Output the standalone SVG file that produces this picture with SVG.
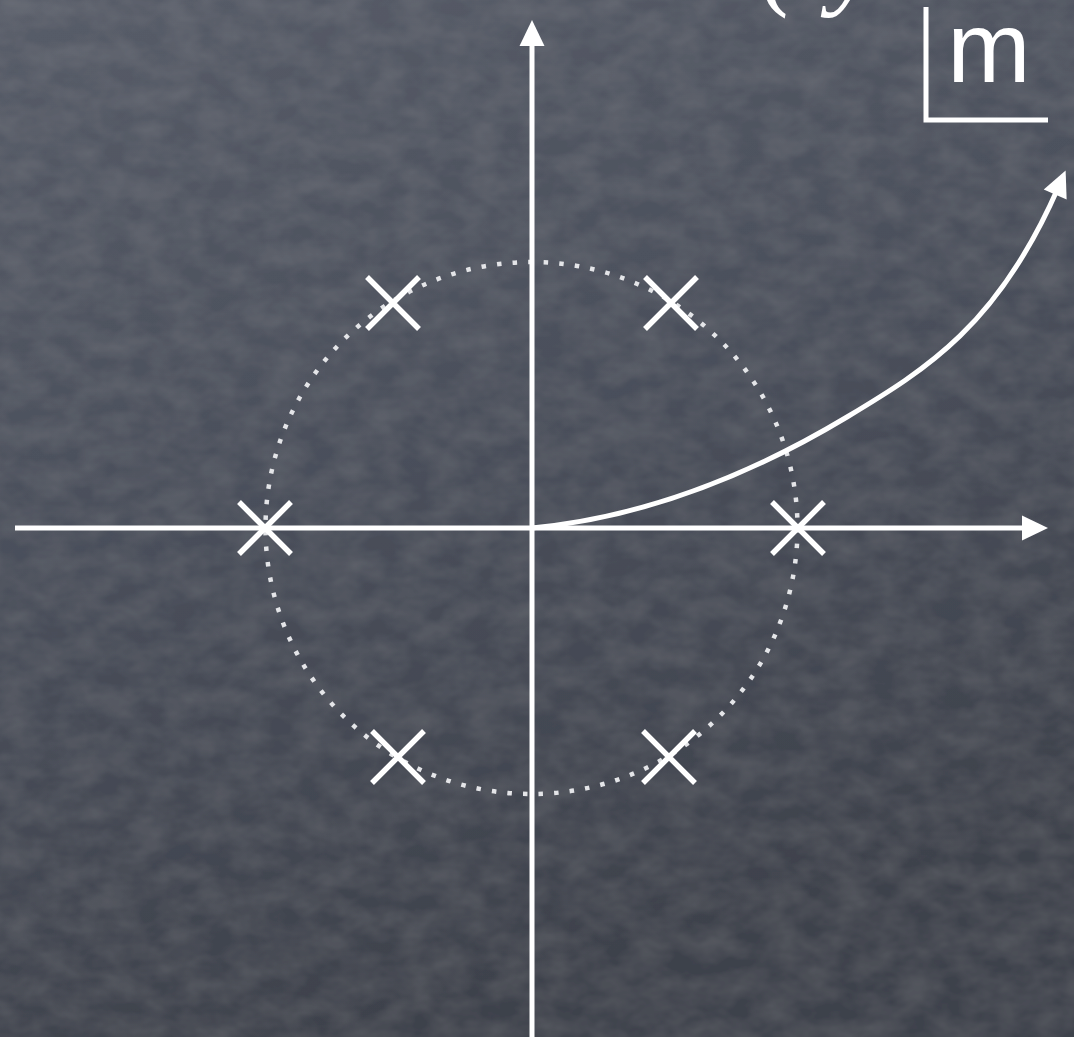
<svg xmlns="http://www.w3.org/2000/svg" width="1074" height="1037" viewBox="0 0 1074 1037">
  <style>
    .axis { fill: none; stroke: #ffffff; stroke-width: 5; }
    .curve { fill: none; stroke: #ffffff; stroke-width: 5; stroke-linecap: butt; }
    .xmark { fill: none; stroke: #ffffff; stroke-width: 5.5; }
    .dots { fill: none; stroke: #e4e5e8; stroke-width: 4.5; stroke-dasharray: 4.5 11.12; }
    .math { font-family: "Liberation Serif", "DejaVu Serif", serif; font-style: italic; font-size: 110px; fill: #ffffff; }
    .label { font-family: "Liberation Sans", "DejaVu Sans", sans-serif; font-size: 100px; fill: #ffffff; }
  </style>
  <defs>
    <linearGradient id="bg" x1="0" y1="0" x2="0.3" y2="1">
      <stop offset="0" stop-color="#575c68"/>
      <stop offset="0.5" stop-color="#4a4f5b"/>
      <stop offset="1" stop-color="#3e424c"/>
    </linearGradient>
    <filter id="chalk" x="0" y="0" width="100%" height="100%">
      <feTurbulence type="fractalNoise" baseFrequency="0.03 0.045" numOctaves="3" seed="5" result="n"/>
      <feColorMatrix in="n" type="matrix" values="0 0 0 0 1  0 0 0 0 1  0 0 0 0 1  0.07 0 0 0 -0.02" result="w"/>
      <feComposite in="w" in2="SourceGraphic" operator="over"/>
    </filter>
    <marker id="arrow" markerUnits="userSpaceOnUse" markerWidth="30" markerHeight="30" refX="0" refY="0" orient="auto" overflow="visible">
      <path d="M-7,-12.5 L19,0 L-7,12.5 z" fill="#ffffff"/>
    </marker>
  </defs>

  <rect x="0" y="0" width="1074" height="1037" fill="url(#bg)" filter="url(#chalk)"/>

  <!-- partial heading text, clipped by top edge -->
  <text class="math" y="-5"><tspan x="760">(</tspan><tspan x="830">y</tspan></text>

  <!-- unit label -->
  <g id="unit-label">
    <path d="M926,7 V120 H1048" fill="none" stroke="#ffffff" stroke-width="5"/>
    <text class="label" x="989" y="82" text-anchor="middle">m</text>
  </g>

  <!-- dotted unit circle -->
  <g id="circle">
    <circle class="dots" cx="531.5" cy="528" r="266"/>
  </g>

  <!-- connectors: axes and curve -->
  <g id="connectors">
    <path class="axis" d="M15,528 H1029" marker-end="url(#arrow)"/>
    <path class="axis" d="M532,1037 V39" marker-end="url(#arrow)"/>
    <path class="curve" d="M532,528 C637,518 742,480 847,417 C927,369 998,325 1058,188" marker-end="url(#arrow)"/>
  </g>

  <!-- roots (X marks) -->
  <g id="root-r"><path class="xmark" d="M772,502 L824,554 M772,554 L824,502"/></g>
  <g id="root-tr"><path class="xmark" d="M645,277 L697,329 M645,329 L697,277"/></g>
  <g id="root-tl"><path class="xmark" d="M367,277 L419,329 M367,329 L419,277"/></g>
  <g id="root-l"><path class="xmark" d="M239,502 L291,554 M239,554 L291,502"/></g>
  <g id="root-bl"><path class="xmark" d="M372,731 L424,783 M372,783 L424,731"/></g>
  <g id="root-br"><path class="xmark" d="M643,731 L695,783 M643,783 L695,731"/></g>
</svg>
